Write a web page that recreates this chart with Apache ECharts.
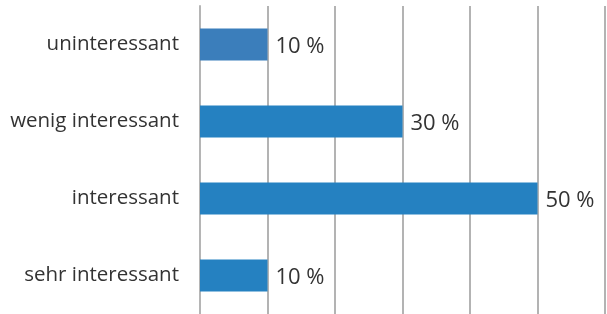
<!DOCTYPE html>
<html>
<head>
<meta charset="utf-8">
<script src="https://cdn.jsdelivr.net/npm/echarts@6/dist/echarts.min.js"></script>
<style>
  html, body { margin: 0; padding: 0; background: #fff; }
  #chart { width: 607px; height: 314px; }
</style>
</head>
<body>
<div id="chart"></div>
<script>
// categories top to bottom
const categories = ['uninteressant', 'wenig interessant', 'interessant', 'sehr interessant'];
const values = [10, 30, 50, 10];
const barColors = ['#3b7ebb', '#2581c1', '#2581c1', '#2581c1'];

const chart = echarts.init(document.getElementById('chart'));

const option = {
  animation: false,
  grid: { left: 200, right: 2, top: 6, bottom: 0, containLabel: false },
  xAxis: {
    type: 'value',
    min: 0,
    max: 60,
    interval: 10,
    axisLabel: { show: false },
    axisLine: { show: false },
    axisTick: { show: false },
    splitLine: { lineStyle: { color: '#9a9a9a', width: 1.5 } }
  },
  yAxis: {
    type: 'category',
    inverse: true,
    data: categories,
    axisLine: { lineStyle: { color: '#b5b5b5', width: 2 } },
    axisTick: { length: 5, lineStyle: { color: '#9a9a9a', width: 1.5 } },
    axisLabel: {
      margin: 21,
      fontSize: 20.5,
      fontFamily: 'Open Sans',
      color: '#333'
    }
  },
  series: [{
    type: 'bar',
    barWidth: 32,
    data: values.map((v, i) => ({ value: v, itemStyle: { color: barColors[i] } })),
    label: {
      show: true,
      position: 'right',
      distance: 5,
      formatter: '{c} %',
      fontSize: 22,
      fontFamily: 'Open Sans',
      color: '#333',
      backgroundColor: '#fff',
      padding: [2, 3, 2, 3],
      offset: [0, 2]
    }
  }]
};

chart.setOption(option);
</script>
</body>
</html>
